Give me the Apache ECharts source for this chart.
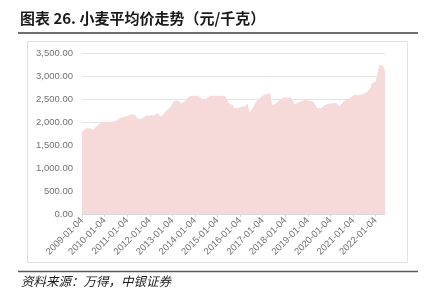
<!DOCTYPE html>
<html>
<head>
<meta charset="utf-8">
<script src="https://cdn.jsdelivr.net/npm/echarts@6/dist/echarts.min.js"></script>
<style>
html,body{margin:0;padding:0;background:#fff;}
#c{width:427px;height:299px;}
</style>
</head>
<body>
<div id="c"></div>
<script>
// Monthly wheat average price, 2009-01 .. 2022-06
const startYear = 2009;
const prices = [
  1790,1820,1860,1860,1865,1850,1830,1870,1920,1960,1985,2000,
  2005,2005,2005,2007,2005,2007,2020,2050,2080,2095,2110,2130,
  2125,2150,2167,2160,2160,2160,2058,2065,2080,2120,2137,2140,
  2140,2140,2145,2150,2190,2200,2115,2130,2200,2260,2300,2320,
  2400,2463,2470,2465,2460,2400,2380,2470,2515,2550,2572,2575,
  2570,2568,2565,2550,2500,2463,2510,2550,2570,2572,2570,2570,
  2570,2568,2570,2568,2565,2500,2406,2390,2370,2300,2260,2310,
  2320,2325,2330,2360,2406,2202,2260,2332,2400,2460,2478,2530,
  2580,2595,2605,2615,2623,2370,2380,2400,2420,2480,2520,2530,
  2530,2532,2530,2530,2520,2380,2410,2430,2442,2460,2475,2478,
  2470,2460,2455,2440,2420,2300,2297,2300,2310,2370,2391,2395,
  2400,2410,2415,2420,2440,2330,2400,2445,2470,2493,2520,2540,
  2550,2600,2590,2580,2600,2605,2615,2640,2660,2720,2840,2850,
  2877,2900,3240,3270,3220,3115
];
const categories = prices.map((_, i) => {
  const y = startYear + Math.floor(i / 12);
  const m = String(i % 12 + 1).padStart(2, '0');
  return y + '-' + m + '-04';
});
const yTicks = [0, 500, 1000, 1500, 2000, 2500, 3000, 3500];
const titleText = '图表 26. 小麦平均价走势（元/千克）';
const sourceText = '资料来源：万得，中银证券';

const chart = echarts.init(document.getElementById('c'), null, {renderer: 'canvas'});
chart.setOption({
  animation: false,
  backgroundColor: '#ffffff',
  grid: {left: 82, right: 42, top: 53, bottom: 85},
  xAxis: {
    type: 'category',
    data: categories,
    boundaryGap: false,
    axisLine: {show: true, lineStyle: {color: '#d9d9d9', width: 1}},
    axisTick: {show: true, interval: 11, length: 3, lineStyle: {color: '#d9d9d9'}},
    axisLabel: {
      interval: 11, rotate: 45, margin: 5,
      color: '#737373', fontSize: 9.5, fontFamily: 'Liberation Sans, Arial, sans-serif'
    },
    splitLine: {show: false}
  },
  yAxis: {
    type: 'value',
    min: yTicks[0], max: yTicks[yTicks.length - 1], interval: 500,
    axisLine: {show: false},
    axisTick: {show: false},
    axisLabel: {
      margin: 9, color: '#737373', fontSize: 9.5,
      fontFamily: 'Liberation Sans, Arial, sans-serif',
      formatter: v => v.toLocaleString('en-US', {minimumFractionDigits: 2, maximumFractionDigits: 2})
    },
    splitLine: {show: true, lineStyle: {color: '#e3e3e3', width: 1}}
  },
  series: [{
    type: 'line',
    data: prices,
    symbol: 'none',
    lineStyle: {width: 0},
    areaStyle: {color: '#f6dada', opacity: 1}
  }],
  graphic: [
    {type: 'text', left: 20, top: 11, style: {text: titleText, fill: '#1a1a1a', font: 'bold 15px "Noto Sans CJK SC", sans-serif'}},
    {type: 'line', shape: {x1: 18, y1: 33, x2: 418, y2: 33}, style: {stroke: '#3f3f3f', lineWidth: 1.5}},
    {type: 'rect', shape: {x: 27.5, y: 41.5, width: 380, height: 221}, style: {fill: 'none', stroke: '#e0e0e0', lineWidth: 1}, z: -1},
    {type: 'line', shape: {x1: 18, y1: 271.5, x2: 418, y2: 271.5}, style: {stroke: '#595959', lineWidth: 1.5}},
    {type: 'text', left: 21, top: 275, style: {text: sourceText, fill: '#1a1a1a', font: 'italic 12.5px "Noto Sans CJK SC", sans-serif'}}
  ]
});
</script>
</body>
</html>
